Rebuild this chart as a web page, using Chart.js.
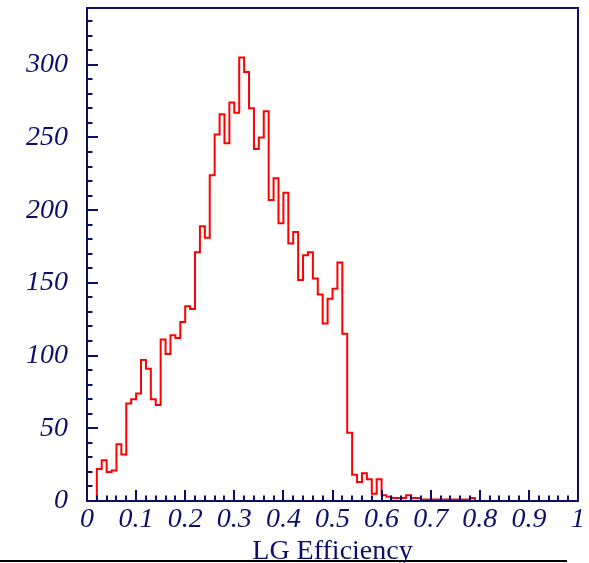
<!DOCTYPE html>
<html>
<head>
<meta charset="utf-8">
<script src="https://cdn.jsdelivr.net/npm/chart.js@4/dist/chart.umd.min.js"></script>
<style>
  html, body { margin: 0; padding: 0; background: #ffffff; }
  #wrap { width: 589px; height: 563px; position: relative; }
</style>
</head>
<body>
<div id="wrap"><canvas id="c" width="589" height="563"></canvas></div>
<script>
// ---- data ----
const binWidth = 0.01;
const binLowEdges = [
  0.00,0.01,0.02,0.03,0.04,0.05,0.06,0.07,0.08,0.09,
  0.10,0.11,0.12,0.13,0.14,0.15,0.16,0.17,0.18,0.19,
  0.20,0.21,0.22,0.23,0.24,0.25,0.26,0.27,0.28,0.29,
  0.30,0.31,0.32,0.33,0.34,0.35,0.36,0.37,0.38,0.39,
  0.40,0.41,0.42,0.43,0.44,0.45,0.46,0.47,0.48,0.49,
  0.50,0.51,0.52,0.53,0.54,0.55,0.56,0.57,0.58,0.59,
  0.60,0.61,0.62,0.63,0.64,0.65,0.66,0.67,0.68,0.69,
  0.70,0.71,0.72,0.73,0.74,0.75,0.76,0.77,0.78,0.79,
  0.80,0.81,0.82,0.83,0.84,0.85,0.86,0.87,0.88,0.89,
  0.90,0.91,0.92,0.93,0.94,0.95,0.96,0.97,0.98,0.99
];
const counts = [
  0,0,22,28,20,21,39,32,67,70,
  74,97,91,70,66,111,101,114,112,123,
  134,132,171,189,181,224,252,266,246,274,
  267,305,295,270,242,250,268,207,222,191,
  212,177,185,152,169,171,153,142,122,139,
  146,164,115,47,18,13,19,15,5,15,
  4,3,2,2,2,4,2,2,1,1,
  1,1,1,1,1,1,1,1,2,0,
  0,0,0,0,0,0,0,0,0,0,
  0,0,0,0,0,0,0,0,0,0
];
const xTickLabels = ['0','0.1','0.2','0.3','0.4','0.5','0.6','0.7','0.8','0.9','1'];
const yTickLabels = ['0','50','100','150','200','250','300'];
const xTitle = 'LG Efficiency';

// ---- build step points (left edges + final right edge) ----
const points = binLowEdges.map((x, i) => ({ x: x, y: counts[i] }));
points.push({ x: binLowEdges[binLowEdges.length - 1] + binWidth, y: counts[counts.length - 1] });

const NAVY = '#0d0d6b';
const tickFont = { family: 'Liberation Serif', size: 28, style: 'italic' };

const framePlugin = {
  id: 'rootFrame',
  afterDatasetsDraw(chart) {
    const ctx = chart.ctx;
    const a = chart.chartArea;
    const xs = chart.scales.x, ys = chart.scales.y;
    ctx.save();
    ctx.strokeStyle = NAVY;
    ctx.lineWidth = 2;
    ctx.strokeRect(a.left, a.top, a.right - a.left, a.bottom - a.top);
    ctx.beginPath();
    // x ticks (inward), major every 0.1, minor every 0.02
    for (let k = 0; k <= 50; k++) {
      const px = Math.round(xs.getPixelForValue(k * 0.02));
      const len = (k % 5 === 0) ? 11 : 5.5;
      ctx.moveTo(px, a.bottom);
      ctx.lineTo(px, a.bottom - len);
    }
    // y ticks (inward), major every 50, minor every 10
    for (let k = 0; k <= 33; k++) {
      const py = Math.round(ys.getPixelForValue(k * 10));
      const len = (k % 5 === 0) ? 11 : 5.5;
      ctx.moveTo(a.left, py);
      ctx.lineTo(a.left + len, py);
    }
    ctx.stroke();
    ctx.restore();
  },
  afterDraw(chart) {
    const ctx = chart.ctx;
    ctx.save();
    ctx.strokeStyle = '#000000';
    ctx.lineWidth = 2;
    ctx.beginPath();
    ctx.moveTo(0, 561);
    ctx.lineTo(567, 561);
    ctx.stroke();
    ctx.restore();
  }
};

new Chart(document.getElementById('c'), {
  type: 'line',
  data: {
    datasets: [{
      data: points,
      stepped: true,
      borderColor: '#ff0000',
      borderWidth: 2,
      pointRadius: 0,
      fill: false,
      tension: 0
    }]
  },
  options: {
    responsive: false,
    animation: false,
    devicePixelRatio: 1,
    layout: { padding: { left: 0, right: 11, top: 8, bottom: 0 } },
    plugins: { legend: { display: false }, tooltip: { enabled: false } },
    scales: {
      x: {
        type: 'linear',
        min: 0, max: 1,
        grid: { display: false, drawTicks: false },
        border: { display: false },
        ticks: {
          stepSize: 0.1,
          autoSkip: false,
          maxRotation: 0,
          padding: 2,
          color: NAVY,
          font: tickFont,
          callback: (v, i) => xTickLabels[i]
        },
        title: {
          display: true,
          text: xTitle,
          color: NAVY,
          font: { family: 'Liberation Serif', size: 28, style: 'normal' },
          padding: { top: 0, bottom: -5 }
        },
        afterFit: (s) => { s.height = 62; s.paddingLeft = 0; s.paddingRight = 0; }
      },
      y: {
        type: 'linear',
        min: 0, max: 339,
        grid: { display: false, drawTicks: false },
        border: { display: false },
        ticks: {
          stepSize: 50,
          includeBounds: false,
          padding: 19,
          color: NAVY,
          font: tickFont,
          callback: (v) => yTickLabels[v / 50]
        },
        afterFit: (s) => { s.width = 87; s.paddingTop = 0; s.paddingBottom = 0; }
      }
    }
  },
  plugins: [framePlugin]
});
</script>
</body>
</html>
